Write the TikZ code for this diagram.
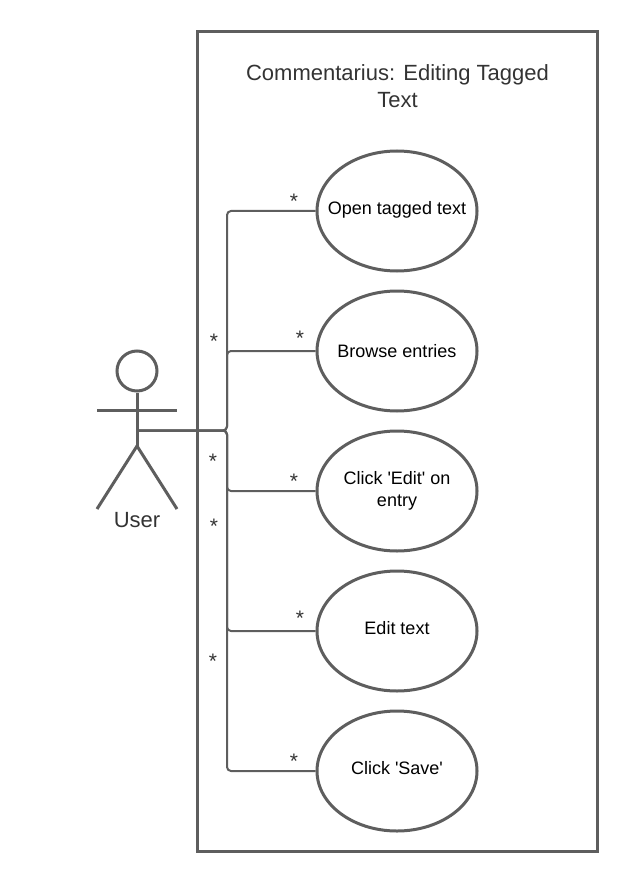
\documentclass[tikz,border=0pt]{standalone}
\usepackage{fontspec}
\setmainfont{Liberation Sans}
\usetikzlibrary{positioning,shapes.geometric}
\definecolor{umlgray}{HTML}{5E5E5E}
\definecolor{titlegray}{HTML}{333333}
\tikzset{x=1pt,y=-1pt,
  usecase/.style={draw=umlgray,line width=3pt,ellipse,minimum width=160pt,minimum height=120pt,inner xsep=-30pt,inner ysep=0pt,align=center,font=\fontsize{18}{22}\selectfont,text=black},
  actorline/.style={draw=umlgray,line width=3pt},
  assoc/.style={draw=umlgray,line width=2pt,rounded corners=4pt},
  mult/.style={font=\fontsize{21}{21}\selectfont,text=titlegray,inner sep=0pt}}
\begin{document}
\begin{tikzpicture}
    \useasboundingbox (0,0) rectangle (620,874);
    \draw [draw=umlgray,line width=3pt] (197.5,31.5) rectangle (597.5,851.5);
    \node [align=center,font=\fontsize{22}{27}\selectfont,text=titlegray] (title) at (397.5,86.5) {Commentarius: Editing Tagged\\Text};
    % use cases
    \node [usecase] (open) at (397,211) {\raisebox{6pt}{Open tagged text}};
    \node [usecase] (browse) at (397,351) {Browse entries};
    \node [usecase] (click) at (397,491) {\raisebox{2pt}{Click \textquotesingle Edit\textquotesingle{} on}\\\raisebox{2pt}{entry}};
    \node [usecase] (edit) at (397,631) {\raisebox{6pt}{Edit text}};
    \node [usecase] (save) at (397,771) {\raisebox{6pt}{Click \textquotesingle Save\textquotesingle}};
    % actor
    \node [circle,draw=umlgray,line width=3pt,minimum size=40pt,inner sep=0pt] (head) at (137,371) {};
    \coordinate (hip) at (137,446);
    \coordinate (armL) at (97,410.5);
    \coordinate (armR) at (177,410.5);
    \coordinate (footL) at (97,509);
    \coordinate (footR) at (177,509);
    \coordinate (hand) at (137,430.5);
    \draw [actorline] (head.south) -- (hip);
    \draw [actorline] (armL) -- (armR);
    \draw [actorline] (footL) -- (hip) -- (footR);
    \node [font=\fontsize{22}{26}\selectfont,text=titlegray,inner sep=0pt] (user) at (137,520.5) {User};
    % associations
    \foreach \target in {open,browse,click,edit,save}
    \draw [assoc] (hand) -- (227,430.5) |- (\target.west);
    \node [mult] (m1) at (294,201) {*};
    \node [mult] (m2) at (300,338) {*};
    \node [mult] (m3) at (294,481) {*};
    \node [mult] (m4) at (300,618) {*};
    \node [mult] (m5) at (294,761) {*};
    \node [mult] (m6) at (214,341) {*};
    \node [mult] (m7) at (213,461) {*};
    \node [mult] (m8) at (214,526) {*};
    \node [mult] (m9) at (213,661) {*};
\end{tikzpicture}
\end{document}
